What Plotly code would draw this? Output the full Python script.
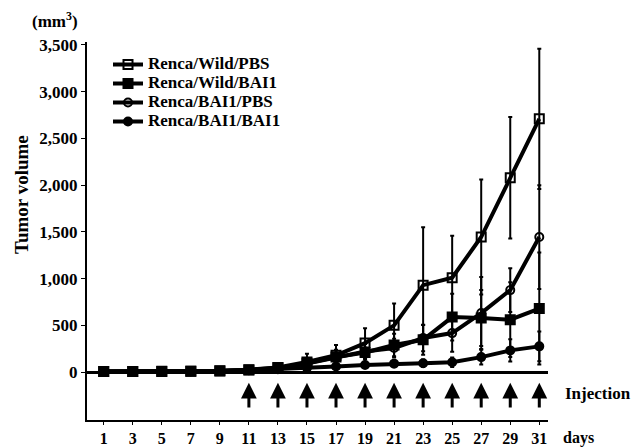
import plotly.graph_objects as go

days = [1, 3, 5, 7, 9, 11, 13, 15, 17, 19, 21, 23, 25, 27, 29, 31]
injection_days = [11, 13, 15, 17, 19, 21, 23, 25, 27, 29, 31]

wild_pbs = [5, 5, 8, 10, 15, 25, 50, 107, 180, 310, 500, 930, 1010, 1445, 2080, 2710]
wild_pbs_err = [5, 5, 5, 5, 8, 10, 25, 90, 110, 160, 235, 620, 450, 615, 650, 750]

wild_bai1 = [5, 5, 6, 8, 12, 22, 45, 95, 160, 210, 290, 345, 588, 578, 560, 680]
wild_bai1_err = [5, 5, 5, 5, 8, 10, 20, 50, 80, 100, 120, 160, 250, 300, 400, 600]

bai1_pbs = [5, 5, 6, 8, 12, 22, 42, 90, 150, 220, 257, 364, 417, 631, 877, 1445]
bai1_pbs_err = [5, 5, 5, 5, 8, 10, 20, 40, 60, 80, 100, 140, 200, 385, 235, 555]

bai1_bai1 = [5, 5, 6, 8, 12, 20, 30, 45, 60, 75, 90, 95, 105, 160, 232, 275]
bai1_bai1_err = [3, 3, 3, 3, 5, 8, 10, 15, 20, 25, 30, 40, 50, 80, 120, 160]

series = [
    ("Renca/Wild/PBS", wild_pbs, wild_pbs_err, "square-open", 9),
    ("Renca/Wild/BAI1", wild_bai1, wild_bai1_err, "square", 9),
    ("Renca/BAI1/PBS", bai1_pbs, bai1_pbs_err, "circle-open", 8),
    ("Renca/BAI1/BAI1", bai1_bai1, bai1_bai1_err, "circle", 8),
]

SERIF = "Liberation Serif"


def bold(size):
    return dict(family=SERIF, size=size, color="black", weight="bold")


fig = go.Figure()
for name, vals, errs, sym, sz in series:
    fig.add_trace(go.Scatter(
        x=days, y=vals, mode="lines+markers",
        name='<span style="font-size:17px">' + name + '</span>',
        line=dict(color="black", width=4),
        marker=dict(symbol=sym, size=sz, color="black",
                    line=dict(color="black", width=2)),
        error_y=dict(type="data", array=errs, visible=True,
                     color="black", thickness=2, width=2),
    ))

annotations = []
for d in injection_days:
    annotations.append(dict(
        x=d, y=-115, ax=d, ay=-395, xref="x", yref="y", axref="x", ayref="y",
        text="", showarrow=True, arrowhead=2, arrowsize=1.05, arrowwidth=3,
        arrowcolor="black", standoff=0,
    ))

annotations += [
    dict(text="Injection", x=598, y=-225, xref="paper", yref="y",
         showarrow=False, xanchor="center", yanchor="middle", font=bold(17)),
    dict(text="days", x=578, y=438, xref="paper", yref="paper",
         showarrow=False, xanchor="center", yanchor="middle", font=bold(16)),
    dict(text="(mm<sup>3</sup>)", x=55, y=20, xref="paper", yref="paper",
         showarrow=False, xanchor="center", yanchor="middle", font=bold(17)),
    dict(text="Tumor volume", x=21, y=195, xref="paper", yref="paper",
         showarrow=False, xanchor="center", yanchor="middle", textangle=-90,
         font=bold(19)),
]

# convert pixel-placed annotation anchors (paper refs) to paper fractions
L, R, T, B = 87, 85, 42, 28
W, H = 633, 448
pw, ph = W - L - R, H - T - B
for a in annotations:
    if a.get("xref") == "paper":
        a["x"] = (a["x"] - L) / pw
    if a.get("yref") == "paper":
        a["y"] = (H - B - a["y"]) / ph

fig.update_layout(
    width=W, height=H,
    margin=dict(l=L, r=R, t=T, b=B, autoexpand=False),
    paper_bgcolor="white", plot_bgcolor="white",
    font=bold(14),
    showlegend=True,
    legend=dict(x=(108 - L) / pw, y=(H - B - 50) / ph, xanchor="left", yanchor="top",
                bgcolor="rgba(0,0,0,0)", itemwidth=30, tracegroupgap=0,
                font=bold(11)),
    annotations=annotations,
)
fig.update_xaxes(
    range=[-0.15, 31.6], tickvals=days, ticktext=[str(d) for d in days],
    showgrid=False, zeroline=False, showline=True, linecolor="black",
    linewidth=2, ticks="outside", ticklen=3, tickwidth=1, tickcolor="black",
    tickfont=bold(16), automargin=False,
)
fig.update_yaxes(
    range=[-513, 3532], tickvals=[0, 500, 1000, 1500, 2000, 2500, 3000, 3500],
    tickformat=",", showgrid=False, zeroline=True, zerolinecolor="black",
    zerolinewidth=3, showline=True, linecolor="black", linewidth=2,
    ticks="outside", ticklen=4, tickwidth=1, tickcolor="black",
    tickfont=bold(17), automargin=False,
)

fig.write_html("out.html", config={"displayModeBar": False},
               post_script="document.body.style.margin='0px';")
